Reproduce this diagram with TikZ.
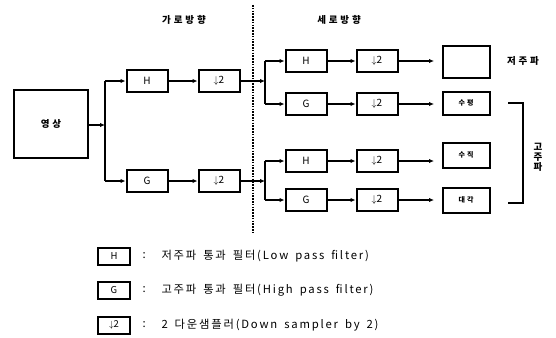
\documentclass[tikz,border=0pt]{standalone}
\usepackage{fontspec}
\setmainfont{Noto Sans CJK KR}
\newfontfamily\spfont[LetterSpace=16,WordSpace=1.6]{Noto Sans CJK KR}
\newfontfamily\wdfont[LetterSpace=30]{Noto Sans CJK KR}
\usetikzlibrary{arrows.meta}
\begin{document}
\begin{tikzpicture}[x=1pt,y=-1pt,
  blk/.style={draw,line width=2pt,minimum width=41pt,minimum height=22pt,inner sep=0pt,font=\fontsize{10}{12}\selectfont},
  outbox/.style={draw,line width=2pt,minimum width=47pt,inner sep=0pt,font=\wdfont\fontsize{7}{8}\selectfont\bfseries},
  lgbox/.style={draw,line width=2pt,minimum width=32pt,minimum height=17pt,inner sep=0pt,font=\fontsize{9.5}{11}\selectfont},
  conn/.style={line width=1.8pt},
  arr/.style={line width=1.8pt,-{Latex[length=5pt,width=4.5pt]}},
  ttl/.style={font=\wdfont\fontsize{9.5}{11}\selectfont\bfseries},
  lgt/.style={font=\spfont\fontsize{11.3}{13}\selectfont,anchor=west}]
\useasboundingbox (0,0) rectangle (556,337);
% main input
\node[draw,line width=2pt,minimum width=74pt,minimum height=68pt,inner sep=0pt,font=\wdfont\fontsize{9.5}{11}\selectfont\bfseries] (img) at (51,124) {영상};
\coordinate (j1) at (105,125);
\coordinate (j1t) at (105,81);
\coordinate (j1b) at (105,181);
\node[blk] (h1) at (147,81) {H};
\node[blk] (g1) at (147,181) {G};
\node[blk] (d1) at (219,81) {$\downarrow$2};
\node[blk] (d2) at (219,181) {$\downarrow$2};
\draw[arr] (img.east |- j1) -- (j1);
\draw[conn] (j1t) -- (j1b);
\draw[arr] (j1t) -- (h1);
\draw[arr] (j1b) -- (g1);
\draw[arr] (h1) -- (d1);
\draw[arr] (g1) -- (d2);
% dotted separator
\coordinate (s1) at (253,5);
\coordinate (s2) at (253,234);
\draw[line width=2.4pt,dash pattern=on 1.6pt off 1.2pt] (s1) -- (s2);
% titles
\node[ttl] (t1) at (184,20) {가로방향};
\node[ttl] (t2) at (339,20) {세로방향};
% second stage upper
\coordinate (j2) at (265,81);
\coordinate (j2t) at (265,61);
\coordinate (j2b) at (265,104);
\draw[arr] (d1) -- (j2);
\draw[conn] (j2t) -- (j2b);
\node[blk] (h2) at (306,61) {H};
\node[blk] (g2) at (306,104) {G};
\node[blk] (d3) at (377,61) {$\downarrow$2};
\node[blk] (d4) at (377,104) {$\downarrow$2};
\draw[arr] (j2t) -- (h2);
\draw[arr] (j2b) -- (g2);
\draw[arr] (h2) -- (d3);
\draw[arr] (g2) -- (d4);
% second stage lower
\coordinate (j3) at (265,181);
\coordinate (j3t) at (265,161);
\coordinate (j3b) at (265,200);
\draw[arr] (d2) -- (j3);
\draw[conn] (j3t) -- (j3b);
\node[blk] (h3) at (306,161) {H};
\node[blk] (g3) at (306,200) {G};
\node[blk] (d5) at (377,161) {$\downarrow$2};
\node[blk] (d6) at (377,200) {$\downarrow$2};
\draw[arr] (j3t) -- (h3);
\draw[arr] (j3b) -- (g3);
\draw[arr] (h3) -- (d5);
\draw[arr] (g3) -- (d6);
% outputs
\coordinate (e3) at (434,61);
\coordinate (e4) at (434,104);
\coordinate (e5) at (434,161);
\coordinate (e6) at (434,200);
\draw[arr] (d3) -- (e3);
\draw[arr] (d4) -- (e4);
\draw[arr] (d5) -- (e5);
\draw[arr] (d6) -- (e6);
\node[outbox,minimum height=32pt] (o1) at (466,62) {};
\node[outbox,minimum height=23pt] (o2) at (466,103) {수평};
\node[outbox,minimum height=25pt] (o3) at (466,155) {수직};
\node[outbox,minimum height=25pt] (o4) at (466,200) {대각};
\node[ttl] (lowt) at (523,61) {저주파};
% bracket
\coordinate (b1) at (508,103);
\coordinate (b2) at (523,103);
\coordinate (b3) at (523,203);
\coordinate (b4) at (508,203);
\draw[line width=2pt] (b1) -- (b2) -- (b3) -- (b4);
\node[ttl,align=center,inner sep=0pt] (hight) at (538,157) {고\\[-1pt]주\\[-1pt]파};
% legend
\node[lgbox] (lh) at (114,256) {H};
\node[lgbox] (lg) at (114,290) {G};
\node[lgbox] (ld) at (114,325) {$\downarrow$2};
\node[lgt] (c1) at (139,256) {:};
\node[lgt] (c2) at (139,290) {:};
\node[lgt] (c3) at (139,325) {:};
\node[lgt] (l1) at (158,256) {저주파 통과 필터(Low pass filter)};
\node[lgt] (l2) at (158,290) {고주파 통과 필터(High pass filter)};
\node[lgt] (l3) at (158,325) {2 다운샘플러(Down sampler by 2)};
\end{tikzpicture}
\end{document}
